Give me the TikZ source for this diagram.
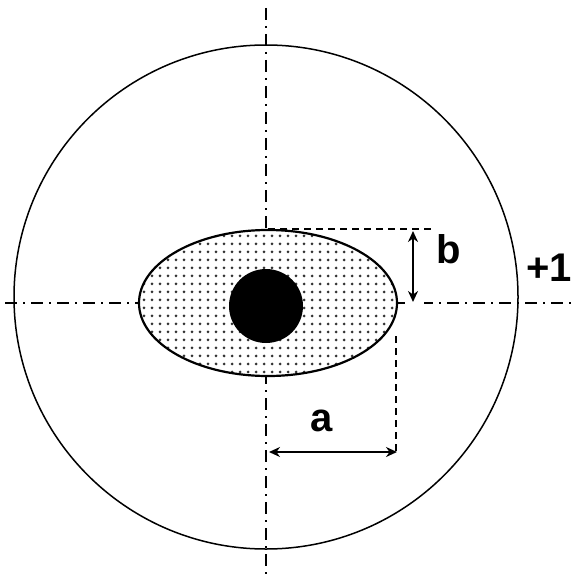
\documentclass[tikz,border=0pt]{standalone}
\usepackage{fontspec}
\setmainfont{Liberation Sans}
\usetikzlibrary{patterns.meta,arrows.meta}
\begin{document}
\begin{tikzpicture}[x=1pt,y=-1pt,
  axis/.style={line width=1.3pt, dash pattern=on 12pt off 6pt on 2pt off 6pt},
  guide/.style={line width=1.6pt, dash pattern=on 7pt off 5pt},
  dim/.style={line width=2.2pt, {Stealth[length=11pt,width=10pt]}-{Stealth[length=11pt,width=10pt]}},
  lbl/.style={font=\fontsize{40}{40}\selectfont\bfseries, inner sep=0pt}]
\useasboundingbox (0,0) rectangle (577,580);
\fill[white] (0,0) rectangle (577,580);
% axes
\coordinate (vtop) at (266,8);
\coordinate (vbot) at (266,580);
\coordinate (hleft) at (5,303);
\coordinate (hright) at (577,303);
\draw[axis] (vtop) -- (vbot);
\draw[axis] (hleft) -- (hright);
% outer circle
\draw[line width=1.5pt] (266,297) circle [radius=252];
% ellipse with dotted fill
\fill[white] (268,303) ellipse [x radius=129, y radius=73];
\draw[line width=2.2pt, pattern={Dots[distance=8pt,radius=1.5pt]}, pattern color=black!80]
  (268,303) ellipse [x radius=129, y radius=73];
% core
\fill (266,306) circle [radius=37];
% b dimension
\coordinate (gtl) at (268,229);
\coordinate (gtr) at (432,229);
\draw[guide] (gtl) -- (gtr);
\fill[white] (405,290) rectangle (424,312);
\coordinate (bt) at (413,231);
\coordinate (bb) at (413,302);
\draw[dim] (bt) -- (bb);
\node[lbl] (b) at (449,249) {b};
\node[lbl] (p1) at (549,268) {+1};
% a dimension
\coordinate (gat) at (396,336);
\coordinate (gab) at (396,452);
\draw[guide] (gat) -- (gab);
\coordinate (al) at (269,452);
\coordinate (ar) at (397,452);
\draw[dim] (al) -- (ar);
\node[lbl] (a) at (322,421) {a};
\end{tikzpicture}
\end{document}
